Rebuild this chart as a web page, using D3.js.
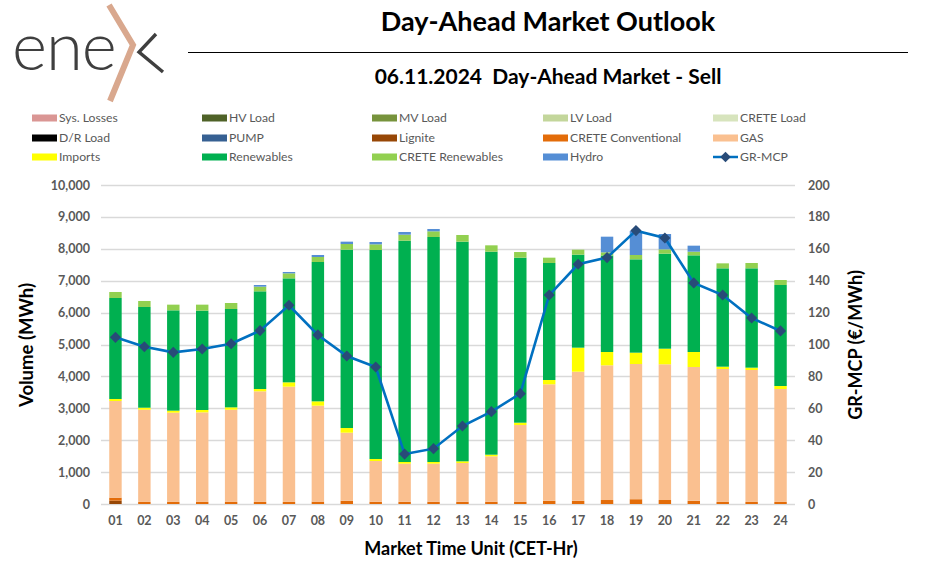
<!DOCTYPE html>
<html><head><meta charset="utf-8">
<script src="https://cdn.jsdelivr.net/npm/d3@7"></script>
<style>
body{margin:0;background:#fff;}
svg{display:block;font-family:"Lato","Open Sans",sans-serif;}
</style></head>
<body><svg id="c" width="927" height="575"></svg>
<script>
const hours = ["01","02","03","04","05","06","07","08","09","10","11","12","13","14","15","16","17","18","19","20","21","22","23","24"];
const lignite      = [105,0,0,0,0,0,0,0,0,0,0,0,0,0,0,0,0,0,0,0,0,0,0,0];
const creteConv    = [95,65,65,65,65,65,65,75,100,70,70,70,70,70,65,100,100,125,150,125,100,65,65,65];
const gas          = [3029,2891,2798,2808,2891,3467,3613,3007,2136,1278,1194,1194,1215,1424,2411,3652,4048,4222,4239,4254,4195,4167,4136,3540];
const imports      = [63,63,63,74,74,73,136,136,146,63,53,53,53,52,73,135,753,418,355,490,470,73,73,94];
const renewables   = [3166,3157,3145,3114,3083,3062,3260,4368,5591,6551,6938,7053,6886,6364,5173,3668,2915,3025,2926,2978,3030,3083,3114,3166];
const creteRen     = [188,188,178,188,188,146,157,157,177,178,188,178,209,199,177,167,157,100,136,136,115,156,167,157];
const hydro        = [0,0,0,0,0,52,42,63,74,73,84,73,0,0,0,0,0,490,754,481,188,0,0,0];
const grMcp        = [104.5,98.6,95.1,97.2,100.5,108.7,124.6,106.0,92.8,85.9,31.3,34.7,48.9,57.9,69.2,131.0,150.3,154.5,171.4,166.8,138.6,131.0,116.6,108.5];
const leftTicks    = [0,1000,2000,3000,4000,5000,6000,7000,8000,9000,10000];
const rightTicks   = [0,20,40,60,80,100,120,140,160,180,200];
const legendNames  = ["Sys. Losses","HV Load","MV Load","LV Load","CRETE Load","D/R Load","PUMP","Lignite","CRETE Conventional","GAS","Imports","Renewables","CRETE Renewables","Hydro","GR-MCP"];
const legendColors = ["#DA9694","#4F6228","#77933C","#C3D69B","#D7E4BD","#000000","#366092","#974706","#E36C09","#FAC090","#FFFF00","#00B050","#92D050","#558ED5","#0070C0"];

const svg = d3.select("#c");
const M = {l:101, r:795, t:185, b:504};
const x = d3.scaleBand().domain(hours).range([M.l, M.r]).paddingInner(0.57).paddingOuter(0.285);
const yL = d3.scaleLinear().domain([0,10000]).range([M.b, M.t]);
const yR = d3.scaleLinear().domain([0,200]).range([M.b, M.t]);

// Logo
const logo = svg.append("g");
logo.append("text").attr("x",12).attr("y",70).attr("font-family","Lato").attr("font-weight",300)
  .attr("font-size",67).attr("fill","#3f3f3f").attr("letter-spacing",-1).text("ene");
logo.append("path").attr("d","M156,34 L139,52 L163,72").attr("fill","none").attr("stroke","#3f3f3f").attr("stroke-width",3.4);
logo.append("path").attr("d","M109,5 L133,45 L110,101").attr("fill","none").attr("stroke","#D9A88E").attr("stroke-width",6);

// Title
svg.append("text").attr("x",548).attr("y",31).attr("text-anchor","middle")
  .attr("font-family","Lato").attr("font-weight",700).attr("font-size",27).attr("fill","#000").text("Day-Ahead Market Outlook");
svg.append("line").attr("x1",188).attr("x2",908).attr("y1",52.5).attr("y2",52.5).attr("stroke","#000").attr("stroke-width",1);
svg.append("text").attr("x",548).attr("y",84).attr("text-anchor","middle")
  .attr("font-family","Lato").attr("font-weight",700).attr("font-size",21).attr("fill","#000").attr("xml:space","preserve").text("06.11.2024  Day-Ahead Market - Sell");

// Legend
const lgX = [32,202,372,543,713], lgY = [118,138,157];
legendNames.forEach((n,i)=>{
  const gx = lgX[i%5], gy = lgY[Math.floor(i/5)];
  const g = svg.append("g");
  if(n==="GR-MCP"){
    g.append("line").attr("x1",gx).attr("x2",gx+25).attr("y1",gy).attr("y2",gy).attr("stroke",legendColors[i]).attr("stroke-width",2.5);
    g.append("path").attr("d",d3.symbol(d3.symbolSquare,55)).attr("transform",`translate(${gx+12.5},${gy}) rotate(45)`).attr("fill","#284B78");
  } else {
    g.append("rect").attr("x",gx).attr("y",gy-3.5).attr("width",25).attr("height",7).attr("fill",legendColors[i]);
  }
  g.append("text").attr("x",gx+27).attr("y",gy+4).attr("font-size",12.2).attr("fill","#595959").text(n);
});

// Grid
svg.append("g").selectAll("line").data(leftTicks).join("line")
  .attr("x1",M.l).attr("x2",M.r).attr("y1",d=>Math.round(yL(d))+0.5).attr("y2",d=>Math.round(yL(d))+0.5)
  .attr("stroke","#D9D9D9").attr("stroke-width",1.3);

// Stacks
const stackKeys = ["lignite","creteConv","gas","imports","renewables","creteRen","hydro"];
const stackCols = {lignite:"#974706",creteConv:"#E36C09",gas:"#FAC090",imports:"#FFFF00",renewables:"#00B050",creteRen:"#92D050",hydro:"#558ED5"};
const src = {lignite,creteConv,gas,imports,renewables,creteRen,hydro};
const table = hours.map((h,i)=>{const o={h}; stackKeys.forEach(k=>o[k]=src[k][i]); return o;});
const series = d3.stack().keys(stackKeys)(table);
svg.append("g").selectAll("g").data(series).join("g").attr("fill",s=>stackCols[s.key])
  .selectAll("rect").data(d=>d).join("rect")
  .attr("x",d=>x(d.data.h)).attr("width",x.bandwidth())
  .attr("y",d=>yL(d[1])).attr("height",d=>Math.max(0,yL(d[0])-yL(d[1])));

// Line
const line = d3.line().x((d,i)=>x(hours[i])+x.bandwidth()/2).y(d=>yR(d));
svg.append("path").datum(grMcp).attr("d",line).attr("fill","none").attr("stroke","#0070C0").attr("stroke-width",2.6);
svg.append("g").selectAll("path").data(grMcp).join("path")
  .attr("d",d3.symbol(d3.symbolSquare,62))
  .attr("transform",(d,i)=>`translate(${x(hours[i])+x.bandwidth()/2},${yR(d)}) rotate(45)`)
  .attr("fill","#284B78");

// Axes
const axL = svg.append("g").attr("transform",`translate(${M.l-11},0)`)
  .call(d3.axisLeft(yL).tickValues(leftTicks).tickFormat(d3.format(",")).tickSize(0).tickPadding(0));
const axR = svg.append("g").attr("transform",`translate(${M.r+13},0)`)
  .call(d3.axisRight(yR).tickValues(rightTicks).tickSize(0).tickPadding(0));
const axB = svg.append("g").attr("transform",`translate(0,${M.b+6})`)
  .call(d3.axisBottom(x).tickSize(0).tickPadding(6));
[axL,axR,axB].forEach(a=>{
  a.select(".domain").remove();
  a.selectAll("text").attr("font-family","Lato").attr("font-weight",700).attr("font-size",12.5).attr("fill","#595959");
});

svg.append("text").attr("transform","translate(33,345) rotate(-90)").attr("text-anchor","middle")
  .attr("font-weight",700).attr("font-size",18.5).attr("fill","#000").text("Volume (MWh)");
svg.append("text").attr("transform","translate(862,345) rotate(-90)").attr("text-anchor","middle")
  .attr("font-weight",700).attr("font-size",18).attr("fill","#000").text("GR-MCP (€/MWh)");
svg.append("text").attr("x",471).attr("y",555).attr("text-anchor","middle")
  .attr("font-weight",700).attr("font-size",18).attr("fill","#000").text("Market Time Unit (CET-Hr)");
</script></body></html>
